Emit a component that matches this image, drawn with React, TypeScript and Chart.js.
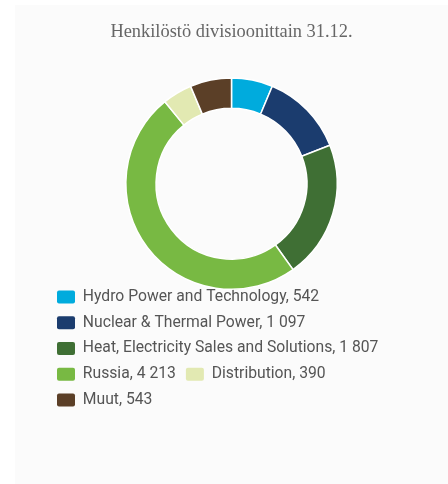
import React, { useEffect, useRef } from "react";
import { Chart, registerables } from "chart.js";

Chart.register(...registerables);

const titleText = "Henkilöstö divisioonittain 31.12.";
const categories = [
  "Hydro Power and Technology",
  "Nuclear & Thermal Power",
  "Heat, Electricity Sales and Solutions",
  "Russia",
  "Distribution",
  "Muut",
];
const valueLabels = ["542", "1 097", "1 807", "4 213", "390", "543"];
const values = [542, 1097, 1807, 4213, 390, 543];
const colors = ["#00abdd", "#1b3c6e", "#3f6f34", "#78b943", "#e2e9b2", "#5b3f27"];

export default function App() {
  const ref = useRef<HTMLCanvasElement | null>(null);
  useEffect(() => {
    if (!ref.current) return;
    const baseGen = (Chart as any).overrides.doughnut.plugins.legend.labels.generateLabels;
    const chart = new Chart(ref.current, {
      type: "doughnut",
      data: {
        labels: categories.map((c, i) => `${c}, ${valueLabels[i]}`),
        datasets: [
          {
            data: values,
            backgroundColor: colors,
            borderColor: "#ffffff",
            borderWidth: 1.5,
          },
        ],
      },
      options: {
        responsive: true,
        maintainAspectRatio: false,
        animation: false,
        radius: "111.6%",
        cutout: "71.4%",
        layout: { padding: { left: 31.95, right: 31.95, top: 0, bottom: 66.15 } },
        plugins: {
          tooltip: { enabled: false },
          title: {
            display: true,
            text: titleText,
            color: "#666666",
            font: { family: "'Liberation Serif', serif", size: 18.4, weight: "normal" },
            padding: { top: 16.46, bottom: 44.71 },
          },
          legend: {
            display: true,
            position: "bottom",
            align: "start",
            labels: {
              boxWidth: 18,
              boxHeight: 13,
              padding: 10.05,
              color: "#555555",
              font: { family: "Roboto, sans-serif", size: 15.7 },
              useBorderRadius: true,
              borderRadius: 2,
              generateLabels: (ch: any) =>
                baseGen(ch).map((l: any) => ({ ...l, lineWidth: 0, strokeStyle: "rgba(0,0,0,0)" })),
            },
          },
        },
      } as any,
    });
    return () => chart.destroy();
  }, []);
  return (
    <div
      style={{
        position: "absolute",
        left: 15,
        top: 5,
        width: 433,
        height: 479,
        background: "#fbfbfb",
      }}
    >
      <canvas ref={ref} />
    </div>
  );
}
